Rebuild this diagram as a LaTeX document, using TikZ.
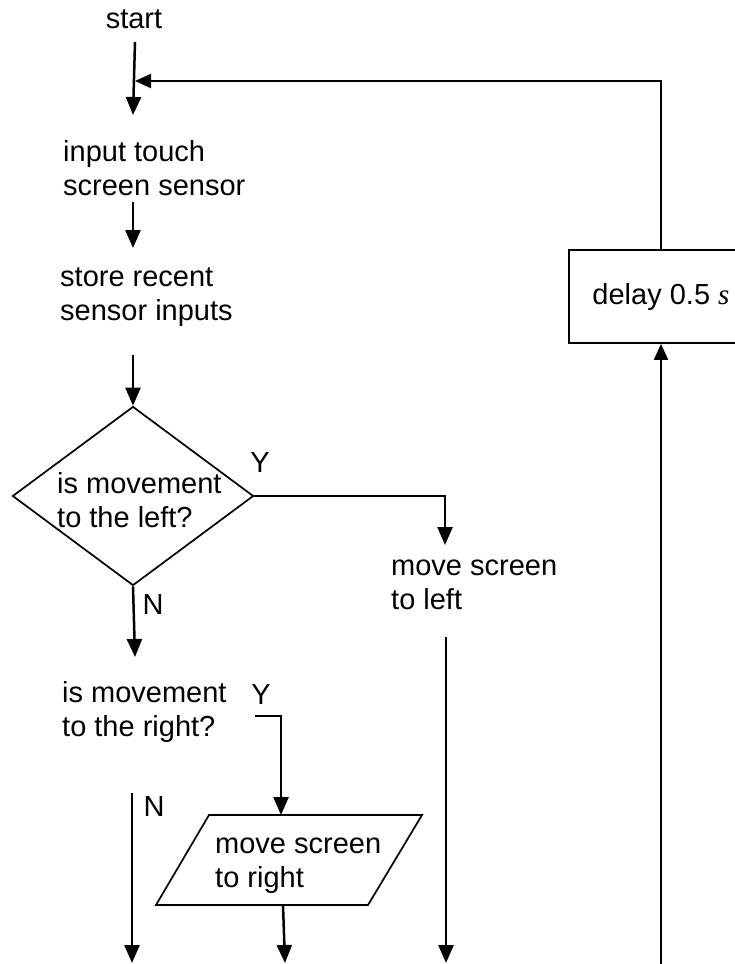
\documentclass[tikz,border=0pt]{standalone}
\usepackage{fontspec}
\setmainfont{Liberation Sans}
\newfontfamily\unitfont{Liberation Serif}
\usetikzlibrary{arrows.meta,shapes.geometric}

\begin{document}
\begin{tikzpicture}[x=1pt,y=-1pt,
  txt/.style={font=\fontsize{29}{34}\selectfont, align=left, inner sep=0pt},
  flow/.style={line width=2.5pt, -{Triangle[length=18pt,width=15pt]}},
  loopline/.style={line width=2pt, -{Triangle[length=16pt,width=14pt]}},
  outline/.style={draw, line width=1.7pt}]
\useasboundingbox (0,0) rectangle (734,964);

% text blocks
\node[txt] (start) at (134,19) {start};
\node[txt, anchor=west] (input) at (63,168) {input touch\\screen sensor};
\node[txt, anchor=west] (store) at (60,297) {store recent\\sensor inputs};
\node[outline, shape=diamond, minimum width=241pt, minimum height=179pt, inner sep=0pt] (dec1) at (133,496) {};
\node[txt, anchor=west] (dec1txt) at (57,500) {is movement\\to the left?};
\node[txt] (y1) at (260,463) {Y};
\node[txt] (n1) at (153,605) {N};
\node[txt, anchor=west] (left) at (391,585) {move screen\\to left};
\node[txt, anchor=west] (dec2) at (62,712) {is movement\\to the right?};
\node[txt] (y2) at (261,695) {Y};
\node[txt] (n2) at (154,807) {N};
\node[txt, anchor=west] (right) at (215,866) {move screen\\to right};
\node[outline, txt, inner sep=0pt, minimum width=184pt, minimum height=93pt] (delay) at (661,296.5) {delay 0.5 {\unitfont\itshape s}};

% parallelogram round the "move screen to right" output
\coordinate (pTL) at (209,815);
\coordinate (pTR) at (422,815);
\coordinate (pBR) at (368,905);
\coordinate (pBL) at (156,905);
\draw[line width=1.7pt] (pTL) -- (pTR) -- (pBR) -- (pBL) -- cycle;

% connector end points
\coordinate (s0) at (135,42);
\coordinate (s1) at (133,115);
\coordinate (i0) at (133,202);
\coordinate (i1) at (133,248);
\coordinate (st0) at (133,355);
\coordinate (yl) at (445,545);
\coordinate (nl) at (135,657);
\coordinate (l0) at (446,637);
\coordinate (l1) at (446,963);
\coordinate (yr0) at (255,716);
\coordinate (yr1) at (281,815);
\coordinate (r0) at (283,905);
\coordinate (r1) at (285,963);
\coordinate (nr0) at (132,793);
\coordinate (nr1) at (132,963);
\coordinate (up0) at (661,964);
\coordinate (fb) at (135,81);

% connectors
\draw[flow] (s0) -- (s1);
\draw[loopline] (delay.north) |- (fb);
\draw[flow] (i0) -- (i1);
\draw[flow] (st0) -- (dec1.north);
\draw[flow] (dec1.east) -| (yl);
\draw[flow] (dec1.south) -- (nl);
\draw[flow] (l0) -- (l1);
\draw[flow] (yr0) -| (yr1);
\draw[flow] (r0) -- (r1);
\draw[flow] (nr0) -- (nr1);
\draw[loopline] (up0) -- (delay.south);
\end{tikzpicture}
\end{document}
